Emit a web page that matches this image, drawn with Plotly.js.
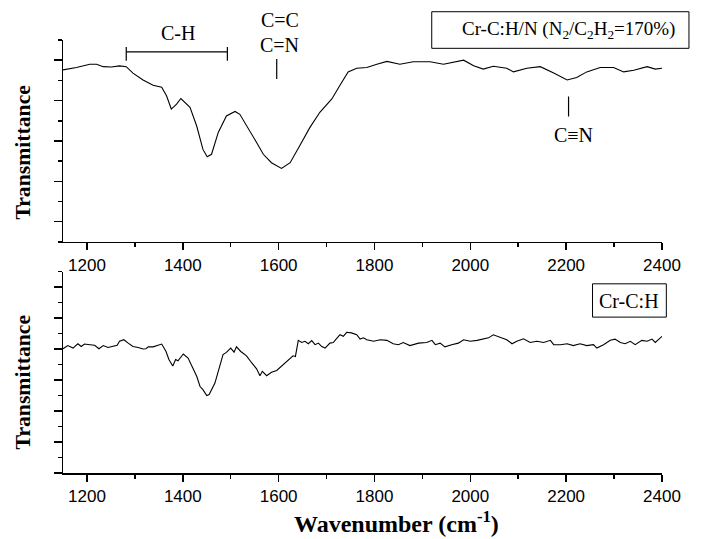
<!DOCTYPE html>
<html>
<head>
<meta charset="utf-8">
<script src="https://cdn.plot.ly/plotly-3.0.1.min.js"></script>
<style>html,body{margin:0;padding:0;background:#fff;overflow:hidden;}#chart{width:704px;height:539px;overflow:hidden;}</style>
</head>
<body>
<div id="chart"></div>
<script>
// Top panel: Cr-C:H/N (N2/C2H2=170%)
const wnTop = [1150,1178,1206,1220,1234,1251,1268,1282,1296,1317,1338,1356,1366,1376,1387,1396,1415,1429,1442,1451,1460,1474,1491,1509,1519,1536,1554,1568,1585,1606,1624,1644,1665,1686,1711,1728,1745,1763,1784,1805,1826,1853,1881,1916,1944,1986,2007,2027,2048,2076,2090,2118,2146,2174,2202,2222,2243,2271,2299,2320,2341,2369,2386,2400];
const trTop = [4.76,4.82,4.90,4.90,4.84,4.83,4.86,4.84,4.68,4.51,4.38,4.33,4.12,3.79,3.91,4.05,3.83,3.37,2.79,2.61,2.67,3.21,3.62,3.73,3.66,3.33,2.96,2.67,2.46,2.32,2.46,2.88,3.33,3.71,4.04,4.38,4.71,4.80,4.82,4.90,4.97,4.90,4.96,4.96,4.90,5.00,4.86,4.78,4.85,4.80,4.71,4.80,4.84,4.68,4.51,4.57,4.71,4.82,4.82,4.71,4.75,4.84,4.78,4.80];

// Bottom panel: Cr-C:H
const wnBot = [1150,1160,1171,1181,1188,1195,1206,1216,1225,1234,1244,1254,1263,1268,1277,1286,1296,1307,1317,1323,1328,1338,1348,1356,1365,1371,1379,1385,1390,1401,1411,1420,1429,1436,1442,1450,1455,1467,1474,1484,1491,1500,1507,1512,1521,1533,1544,1554,1561,1566,1575,1585,1596,1606,1620,1630,1635,1641,1648,1655,1662,1669,1676,1683,1690,1697,1707,1714,1719,1728,1735,1742,1752,1763,1770,1777,1784,1798,1812,1826,1839,1850,1860,1874,1892,1909,1920,1927,1937,1947,1961,1975,1986,2000,2014,2027,2038,2048,2059,2076,2087,2097,2111,2125,2139,2153,2167,2174,2188,2202,2215,2229,2243,2257,2264,2278,2292,2302,2313,2323,2334,2344,2358,2369,2379,2386,2400];
const trBot = [4.01,4.11,4.03,4.17,4.08,4.16,4.14,4.12,4.01,4.11,4.05,4.08,4.12,4.25,4.30,4.19,4.08,4.05,4.00,4.01,4.07,4.07,4.12,4.16,3.92,3.66,3.45,3.66,3.62,3.84,3.71,3.44,3.12,2.79,2.69,2.50,2.53,2.90,3.28,3.82,3.89,4.03,3.90,4.07,3.92,3.78,3.55,3.36,3.14,3.28,3.14,3.25,3.31,3.44,3.62,3.78,3.76,4.28,4.21,4.25,4.17,4.27,4.14,4.19,4.08,4.03,4.19,4.21,4.30,4.46,4.41,4.54,4.52,4.46,4.32,4.36,4.30,4.25,4.30,4.28,4.17,4.14,4.21,4.11,4.19,4.21,4.28,4.14,4.19,4.07,4.14,4.19,4.30,4.25,4.28,4.32,4.36,4.46,4.39,4.30,4.17,4.25,4.33,4.21,4.25,4.21,4.28,4.14,4.14,4.17,4.11,4.17,4.11,4.14,4.03,4.14,4.28,4.32,4.21,4.17,4.25,4.14,4.28,4.25,4.32,4.21,4.41];

const xTicks = [1200,1400,1600,1800,2000,2200,2400];
const topLabel = 'Cr-C:H/N (N<sub>2</sub>/C<sub>2</sub>H<sub>2</sub>=170%)';
const botLabel = 'Cr-C:H';
const yTitle = 'Transmittance';
const xTitle = 'Wavenumber (cm<sup>-1</sup>)';

const serif = 'Liberation Serif, Times New Roman, serif';
const sans = 'Liberation Sans, Arial, sans-serif';

const traces = [
  {x: wnTop, y: trTop, type: 'scatter', mode: 'lines', line: {color: '#000', width: 1.1}, xaxis: 'x', yaxis: 'y', showlegend: false, hoverinfo: 'skip'},
  {x: wnBot, y: trBot, type: 'scatter', mode: 'lines', line: {color: '#000', width: 1.1}, xaxis: 'x2', yaxis: 'y2', showlegend: false, hoverinfo: 'skip'}
];

function xax(anchor) {
  return {
    anchor: anchor, domain: [0, 1], range: [1150, 2400],
    tickmode: 'array', tickvals: xTicks, ticktext: xTicks.map(String),
    ticks: 'outside', ticklen: 7, tickwidth: 1.5, tickcolor: '#000',
    minor: {dtick: 100, tick0: 0, ticks: 'outside', ticklen: 4, tickwidth: 1.5, tickcolor: '#000'},
    showline: true, linecolor: '#000', linewidth: 1.5, mirror: false,
    showgrid: false, zeroline: false,
    tickfont: {family: sans, size: 17, color: '#000'}
  };
}
function yax(anchor, domain, range, tick0) {
  return {
    anchor: anchor, domain: domain, range: range,
    tick0: tick0, dtick: 1, showticklabels: false,
    ticks: 'outside', ticklen: 8, tickwidth: 1.5, tickcolor: '#000',
    minor: {dtick: 0.5, ticks: 'outside', ticklen: 4, tickwidth: 1.5, tickcolor: '#000'},
    showline: true, linecolor: '#000', linewidth: 1.5, mirror: false,
    showgrid: false, zeroline: false
  };
}

const layout = {
  width: 704, height: 539,
  margin: {l: 63.3, r: 42.3, t: 40, b: 65.7},
  paper_bgcolor: '#fff', plot_bgcolor: '#fff',
  showlegend: false,
  xaxis: xax('y'),
  yaxis: yax('x', [0.5338, 1], [0.5, 5.5], 0),
  xaxis2: xax('y2'),
  yaxis2: yax('x2', [0, 0.4653], [0, 6.5], 0),
  shapes: [
    {type: 'line', xref: 'x', yref: 'y', x0: 1282, x1: 1493, y0: 5.208, y1: 5.208, line: {color: '#000', width: 1.2}},
    {type: 'line', xref: 'x', yref: 'y', x0: 1282, x1: 1282, y0: 5.325, y1: 4.985, line: {color: '#000', width: 1.2}},
    {type: 'line', xref: 'x', yref: 'y', x0: 1493, x1: 1493, y0: 5.325, y1: 4.985, line: {color: '#000', width: 1.2}},
    {type: 'line', xref: 'x', yref: 'y', x0: 1596, x1: 1596, y0: 5.027, y1: 4.531, line: {color: '#000', width: 1.2}},
    {type: 'line', xref: 'x', yref: 'y', x0: 2205, x1: 2205, y0: 4.102, y1: 3.605, line: {color: '#000', width: 1.2}},
    {type: 'rect', xref: 'paper', yref: 'paper', x0: 0.6156, x1: 1.045, y0: 0.9808, y1: 1.0653, line: {color: '#000', width: 1}, fillcolor: 'rgba(0,0,0,0)'},
    {type: 'rect', xref: 'paper', yref: 'paper', x0: 0.8840, x1: 1.0072, y0: 0.3600, y1: 0.4369, line: {color: '#000', width: 1}, fillcolor: 'rgba(0,0,0,0)'}
  ],
  annotations: [
    {text: 'C-H', xref: 'paper', yref: 'paper', x: 0.1917, y: 1.0162, showarrow: false, xanchor: 'center', yanchor: 'middle', font: {family: serif, size: 20, color: '#000'}},
    {text: 'C=C', xref: 'paper', yref: 'paper', x: 0.3621, y: 1.0462, showarrow: false, xanchor: 'center', yanchor: 'middle', font: {family: serif, size: 20, color: '#000'}},
    {text: 'C=N', xref: 'paper', yref: 'paper', x: 0.3621, y: 0.9885, showarrow: false, xanchor: 'center', yanchor: 'middle', font: {family: serif, size: 20, color: '#000'}},
    {text: 'C≡N', xref: 'paper', yref: 'paper', x: 0.8518, y: 0.7808, showarrow: false, xanchor: 'center', yanchor: 'middle', font: {family: serif, size: 20, color: '#000'}},
    {text: topLabel, xref: 'paper', yref: 'paper', x: 0.8434, y: 1.0231, showarrow: false, xanchor: 'center', yanchor: 'middle', font: {family: serif, size: 19, color: '#000'}},
    {text: botLabel, xref: 'paper', yref: 'paper', x: 0.9457, y: 0.3983, showarrow: false, xanchor: 'center', yanchor: 'middle', font: {family: serif, size: 20, color: '#000'}},
    {text: yTitle, xref: 'paper', yref: 'paper', x: -0.0673, y: 0.7415, textangle: -90, showarrow: false, xanchor: 'center', yanchor: 'middle', font: {family: serif, size: 21.7, color: '#000', weight: 'bold'}},
    {text: yTitle, xref: 'paper', yref: 'paper', x: -0.0673, y: 0.2107, textangle: -90, showarrow: false, xanchor: 'center', yanchor: 'middle', font: {family: serif, size: 21.7, color: '#000', weight: 'bold'}},
    {text: xTitle, xref: 'paper', yref: 'paper', x: 0.556, y: -0.1124, showarrow: false, xanchor: 'center', yanchor: 'middle', font: {family: serif, size: 24, color: '#000', weight: 'bold'}}
  ]
};

Plotly.newPlot('chart', traces, layout, {displayModeBar: false, staticPlot: true});
</script>
</body>
</html>
